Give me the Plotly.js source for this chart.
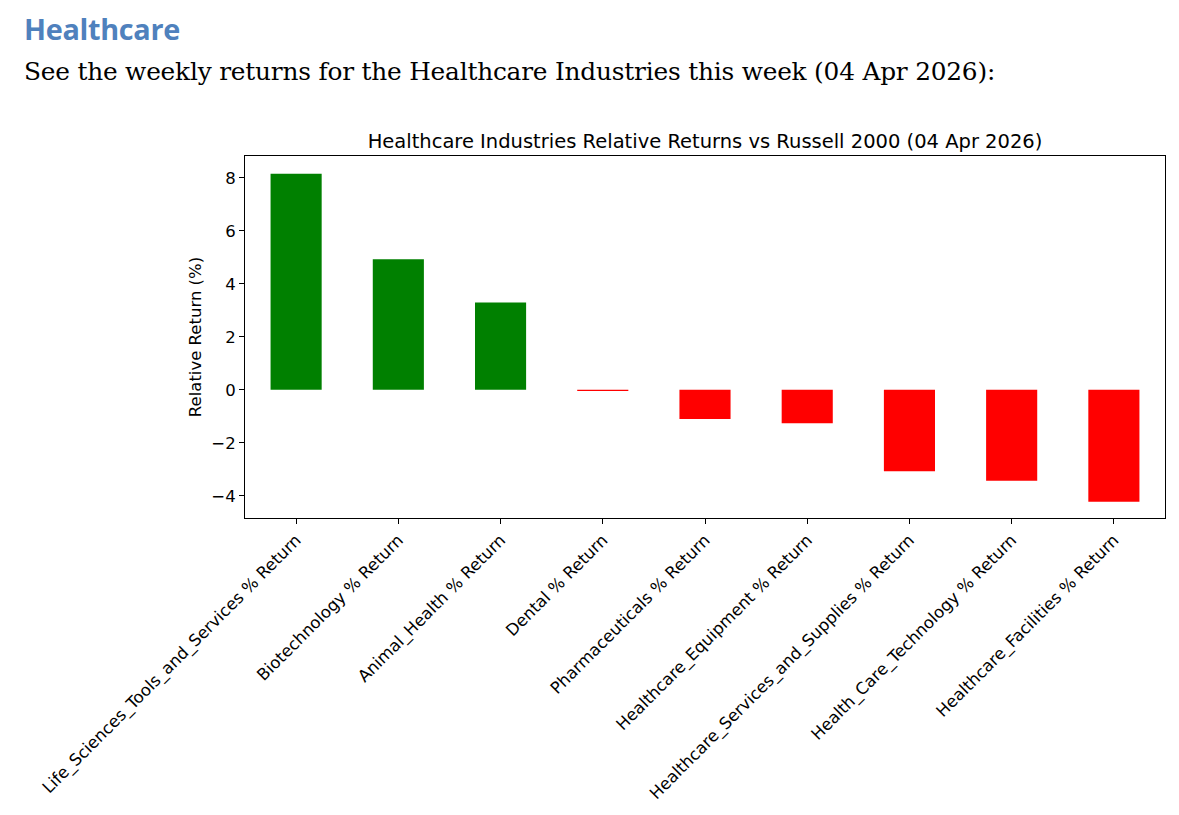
<!DOCTYPE html>
<html>
<head>
<meta charset="utf-8">
<script src="https://cdn.plot.ly/plotly-3.0.1.min.js"></script>
<style>
  html, body { margin: 0; padding: 0; background: #fff; width: 1179px; height: 815px; overflow: hidden; }
  #wrap { position: relative; width: 1179px; height: 815px; }
  #h1 { position: absolute; left: 24px; top: 12px; font-family: "Open Sans", sans-serif; font-weight: 700; font-size: 28.8px; line-height: 1.2; color: #4F81BD; letter-spacing: -0.3px; }
  #h2 { position: absolute; left: 24px; top: 57px; font-family: "DejaVu Serif", serif; font-size: 24.8px; line-height: 1.2; color: #000; letter-spacing: -0.2px; }
  #chart { position: absolute; left: 0; top: 0; width: 1179px; height: 815px; }
</style>
</head>
<body>
<div id="wrap">
  <div id="chart"></div>
  <div id="h1">Healthcare</div>
  <div id="h2">See the weekly returns for the Healthcare Industries this week (04 Apr 2026):</div>
</div>
<script>
const categories = [
  "Life_Sciences_Tools_and_Services % Return",
  "Biotechnology % Return",
  "Animal_Health % Return",
  "Dental % Return",
  "Pharmaceuticals % Return",
  "Healthcare_Equipment % Return",
  "Healthcare_Services_and_Supplies % Return",
  "Health_Care_Technology % Return",
  "Healthcare_Facilities % Return"
];
const relativeReturns = [8.15, 4.92, 3.29, -0.05, -1.10, -1.26, -3.08, -3.43, -4.23];
const yTickValues = [-4, -2, 0, 2, 4, 6, 8];

const barColors = relativeReturns.map(v => v >= 0 ? "#008000" : "#FF0000");

const trace = {
  type: "bar",
  x: categories.map((c, i) => i),
  y: relativeReturns,
  width: 0.5,
  marker: { color: barColors, line: { width: 0 } },
  hoverinfo: "skip"
};

const layout = {
  width: 1179,
  height: 815,
  margin: { l: 245, r: 14, t: 156, b: 297 },
  paper_bgcolor: "rgba(0,0,0,0)",
  plot_bgcolor: "#fff",
  showlegend: false,
  font: { family: "DejaVu Sans, sans-serif", color: "#000" },
  title: {
    text: "Healthcare Industries Relative Returns vs Russell 2000 (04 Apr 2026)",
    font: { family: "DejaVu Sans, sans-serif", size: 19.5, color: "#000" },
    x: 0.5, xref: "paper", xanchor: "center",
    y: 1 - 141 / 815, yref: "container", yanchor: "middle"
  },
  xaxis: {
    range: [-0.5, 8.5],
    tickmode: "array",
    tickvals: categories.map((c, i) => i),
    ticktext: categories,
    tickangle: -45,
    ticks: "outside", ticklen: 5, tickwidth: 1, tickcolor: "#000",
    tickfont: { family: "DejaVu Sans, sans-serif", size: 16.5, color: "#000" },
    showgrid: false, zeroline: false,
    showline: true, linecolor: "#000", linewidth: 1, mirror: true
  },
  yaxis: {
    range: [-4.84, 8.82],
    tickmode: "array",
    tickvals: yTickValues,
    ticks: "outside", ticklen: 5, tickwidth: 1, tickcolor: "#000",
    tickfont: { family: "DejaVu Sans, sans-serif", size: 16.5, color: "#000" },
    showgrid: false, zeroline: false,
    showline: true, linecolor: "#000", linewidth: 1, mirror: true,
    title: { text: "Relative Return (%)", font: { family: "DejaVu Sans, sans-serif", size: 16.5, color: "#000" }, standoff: 5 }
  },
  bargap: 0.5
};

Plotly.newPlot("chart", [trace], layout, { displayModeBar: false, staticPlot: true });
</script>
</body>
</html>
